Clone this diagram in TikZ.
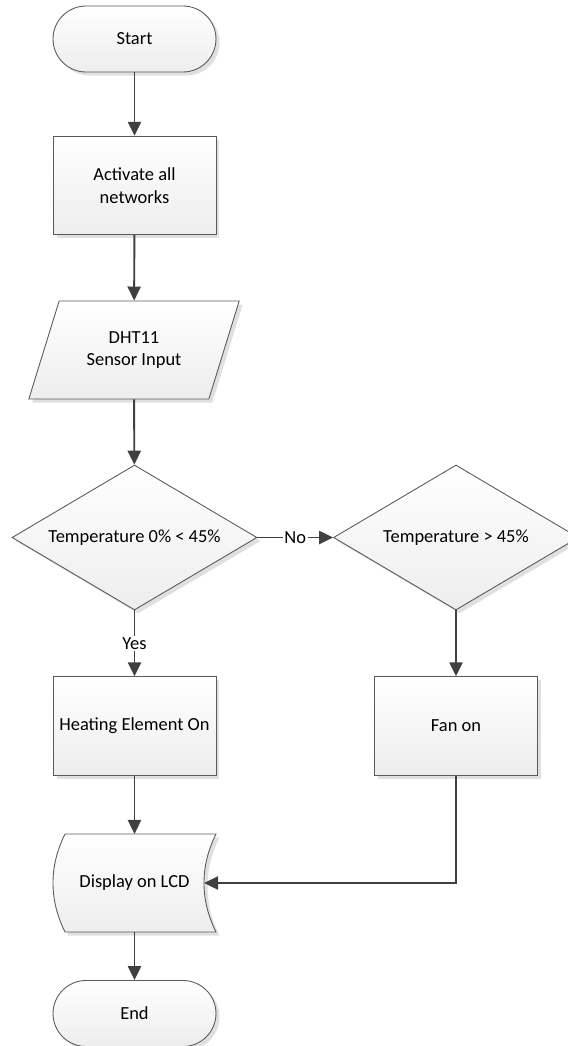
\documentclass[tikz,border=0pt]{standalone}
\usepackage{fontspec}
\setmainfont{Carlito}
\usetikzlibrary{shapes.geometric,shadows,arrows.meta}
\definecolor{edgegray}{HTML}{404040}
\definecolor{linegray}{HTML}{5A5A5A}

\begin{document}
\begin{tikzpicture}
  [x=0.02cm,y=-0.02cm,font=\fontsize{10.5}{13}\selectfont,
   shade/.style={draw=linegray,line width=0.5pt,top color=white,bottom color=black!7,
     drop shadow={shadow xshift=2pt,shadow yshift=-2pt,fill=black!12,opacity=1}},
   box/.style={shade,align=center,inner sep=0pt},
   term/.style={box,rectangle,rounded corners=0.66cm,minimum width=3.26cm,minimum height=1.32cm},
   proc/.style={box,rectangle,minimum width=3.26cm,minimum height=1.97cm},
   io/.style={box,trapezium,trapezium left angle=63,trapezium right angle=117,
     trapezium stretches=true,minimum width=4.24cm,minimum height=1.96cm},
   dec/.style={box,diamond,aspect=1.69,minimum width=4.9cm,minimum height=2.9cm},
   flow/.style={draw=edgegray,line width=1.1pt,-{Triangle[length=8pt,width=7.5pt]}},
   lbl/.style={fill=white,inner sep=1pt}]
  \useasboundingbox (0,0) rectangle (568,1046);

  \node[term] (start) at (134.5,39) {Start};
  \node[proc] (act) at (134.5,185.5) {Activate all\\networks};
  \node[io] (dht) at (134,350) {DHT11\\Sensor Input};
  \node[dec] (tmp1) at (134.5,537.5) {Temperature 0\% < 45\%};
  \node[dec] (tmp2) at (456,537.5) {Temperature > 45\%};
  \node[proc] (heat) at (134.5,726) {Heating Element On};
  \node[proc] (fan) at (456,726) {Fan on};
  \path[shade] (65,834) -- (216,834) .. controls (200,866) and (200,900) .. (216,932)
    -- (65,932) .. controls (49,900) and (49,866) .. (65,834) -- cycle;
  \node (lcd) at (134.5,883) {Display on LCD};
  \coordinate (lcdin) at (204,883);
  \node[term] (end) at (134.5,1013.5) {End};

  \draw[flow] (start) -- (act);
  \draw[flow] (act) -- (dht);
  \draw[flow] (dht) -- (tmp1);
  \draw[flow] (tmp1) -- node[lbl] {No} (tmp2);
  \draw[flow] (tmp1) -- node[lbl] {Yes} (heat);
  \draw[flow] (tmp2) -- (fan);
  \draw[flow] (heat.south) -- (heat.south |- 0,834);
  \draw[flow] (fan) |- (lcdin);
  \draw[flow] (lcd.south |- 0,932) -- (end);

\end{tikzpicture}
\end{document}
